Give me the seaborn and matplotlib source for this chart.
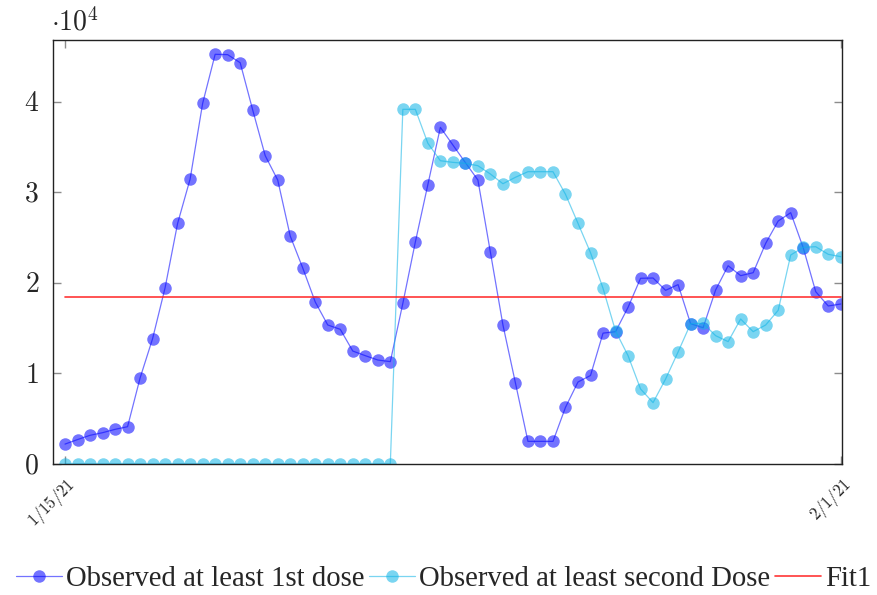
import matplotlib
matplotlib.use("Agg")
import matplotlib.pyplot as plt
import seaborn as sns
import pandas as pd
from matplotlib.lines import Line2D

# Daily counts (in units of 10^4 on the y axis)
first_dose = [
    2200, 2700, 3170, 3460, 3830, 4120, 9500, 13850, 19480, 26590,
    31490, 39850, 45270, 45230, 44340, 39120, 34070, 31380, 25190, 21660,
    17900, 15360, 14880, 12480, 11970, 11490, 11310, 17750, 24530, 30870,
    37200, 35250, 33300, 31380, 23390, 15360, 8950, 2500, 2500, 2500,
    6260, 9060, 9780, 14460, 14620, 17310, 20520, 20550, 19190, 19820,
    15500, 15060, 19230, 21910, 20810, 21140, 24380, 26850, 27770, 23900,
    19040, 17460, 17680,
]
second_dose = [0] * 27 + [
    39190, 39190, 35440, 33510, 33330, 33220, 32960, 32040, 30970, 31680,
    32300, 32300, 32300, 29800, 26590, 23350, 19410, 14700, 11970, 8290,
    6780, 9390, 12380, 15500, 15540, 14180, 13520, 16020, 14620, 15360,
    16980, 23090, 23940, 24010, 23170, 22910,
]
fit_value = 18490
tick_labels = ["1/15/21", "2/1/21"]

n = len(first_dose)
df = pd.DataFrame({
    "day": list(range(n)) * 2,
    "count": first_dose + second_dose,
    "series": ["Observed at least 1st dose"] * n + ["Observed at least second Dose"] * n,
})

sns.set_style("white")
plt.rcParams["mathtext.fontset"] = "cm"
plt.rcParams["font.family"] = ["Liberation Serif", "DejaVu Serif"]

blue = (0.0, 0.0, 1.0)
cyan = (0.05, 0.70, 0.90)
palette = {"Observed at least 1st dose": blue, "Observed at least second Dose": cyan}

fig = plt.figure(figsize=(8.78, 5.95), dpi=100)
ax = fig.add_axes([53 / 878, 1 - 464 / 595, (842 - 53) / 878, (464 - 40) / 595])

for name in ["Observed at least 1st dose", "Observed at least second Dose"]:
    sub = df[df["series"] == name]
    sns.lineplot(data=sub, x="day", y="count", color=palette[name], marker="o",
                 markersize=9, markeredgewidth=0, linewidth=0.9, alpha=0.55,
                 ax=ax, legend=False)

ax.plot([0, n - 1], [fit_value, fit_value], color="#ff2020", linewidth=1.2, alpha=0.9)

ax.set_xlim(-0.96, n - 1 + 0.1)
ax.set_ylim(0, 46850)
ax.set_xlabel("")
ax.set_ylabel("")

ax.set_yticks([0, 10000, 20000, 30000, 40000])
ax.set_yticklabels([f"${v}$" for v in range(5)], fontsize=20)
ax.set_xticks([0, n - 1])
ax.set_xticklabels([f"${t}$" for t in tick_labels], fontsize=12, rotation=45,
                   ha="right", va="top", rotation_mode="anchor")

ax.tick_params(axis="both", direction="in", length=6, width=1, color="#8c8c8c",
               top=True, right=True, bottom=True, left=True)
ax.tick_params(axis="y", pad=10)
ax.tick_params(axis="x", pad=8)
for s in ax.spines.values():
    s.set_color("#222222")
    s.set_linewidth(1.0)

fig.text(51 / 878, 1 - 22 / 595, r"$\cdot 10^4$", fontsize=20, ha="left", va="center")

handles = [
    Line2D([], [], color=blue, alpha=0.55, marker="o", markersize=9, markeredgewidth=0, linewidth=0.9),
    Line2D([], [], color=cyan, alpha=0.55, marker="o", markersize=9, markeredgewidth=0, linewidth=0.9),
    Line2D([], [], color="#ff2020", linewidth=1.2, alpha=0.9),
]
fig.legend(handles, ["Observed at least 1st dose", "Observed at least second Dose", "Fit1"],
           loc="center", bbox_to_anchor=(443.5 / 878, 1 - 579 / 595), ncol=3,
           frameon=False, fontsize=20.7, handlelength=1.6, handletextpad=0.15,
           columnspacing=0.15, borderaxespad=0, borderpad=0)

fig.savefig("out.png", dpi=100)
